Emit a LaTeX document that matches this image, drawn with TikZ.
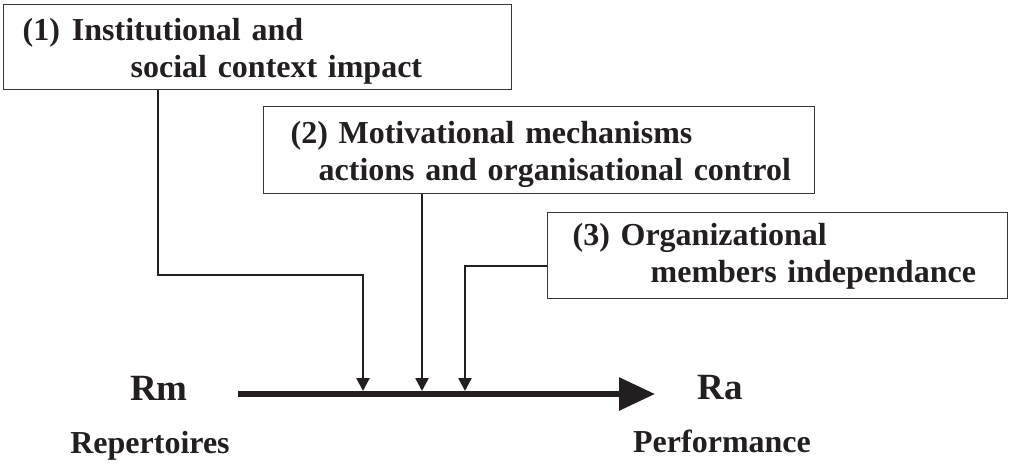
\documentclass[tikz,border=0pt]{standalone}
\usepackage{fontspec}
\setmainfont{Liberation Serif}
\usetikzlibrary{arrows.meta}
\definecolor{ink}{HTML}{231F20}

\begin{document}
\begin{tikzpicture}[x=1pt, y=-1pt,
  every node/.style={text=ink, font=\bfseries\fontsize{32}{37}\selectfont},
  factorbox/.style={draw=ink!90, line width=1.3pt, anchor=north west,
    inner xsep=0pt, inner ysep=0pt, align=left},
  link/.style={draw=ink, line width=2.6pt},
  feed/.style={link, -{Triangle[length=13pt 0, width=13pt 0]}},
  flow/.style={draw=ink, line width=6pt,
    -{Triangle[length=36pt 0, width=32pt 0]}},
  biglabel/.style={font=\bfseries\fontsize{37}{40}\selectfont},
]
\useasboundingbox (0,0) rectangle (1009,466);

% factor boxes (first baseline placed by text height, bottom edge by text depth)
\node[factorbox, text width=508pt, text height=36pt, text depth=49pt]
  (b1) at (3,4)
  {\hspace*{19pt}(1)\hspace{12pt}Institutional and\\\hspace*{127pt}social context impact};
\node[factorbox, text width=551pt, text height=37pt, text depth=50pt]
  (b2) at (263,106)
  {\hspace*{27pt}(2) Motivational mechanisms\\\hspace*{55pt}actions and organisational control};
\node[factorbox, text width=460pt, text height=33pt, text depth=53pt]
  (b3) at (547,212)
  {\hspace*{25pt}(3) Organizational\\\hspace*{103pt}members independance};

% end states and their captions
\node[biglabel] (rm) at (159,388) {Rm};
\node[biglabel] (ra) at (720,388) {Ra};
\node (rep) at (150,446) {Repertoires};
\node (perf) at (722,441) {Performance};

% main transformation arrow
\coordinate (ms) at (238,394);
\coordinate (me) at (655,394);
\draw[flow] (ms) -- (me);

% points where the factors act on the transformation
\coordinate (j1) at (363,391);
\coordinate (j2) at (422,391);
\coordinate (j3) at (465,391);
\coordinate (k1) at (158,275);
\coordinate (k3) at (465,266);

\draw[feed] (b1.south -| k1) -- (k1) -- (k1 -| j1) -- (j1);
\draw[feed] (b2.south -| j2) -- (j2);
\draw[feed] (b3.west |- k3) -- (k3) -- (j3);
\end{tikzpicture}
\end{document}
